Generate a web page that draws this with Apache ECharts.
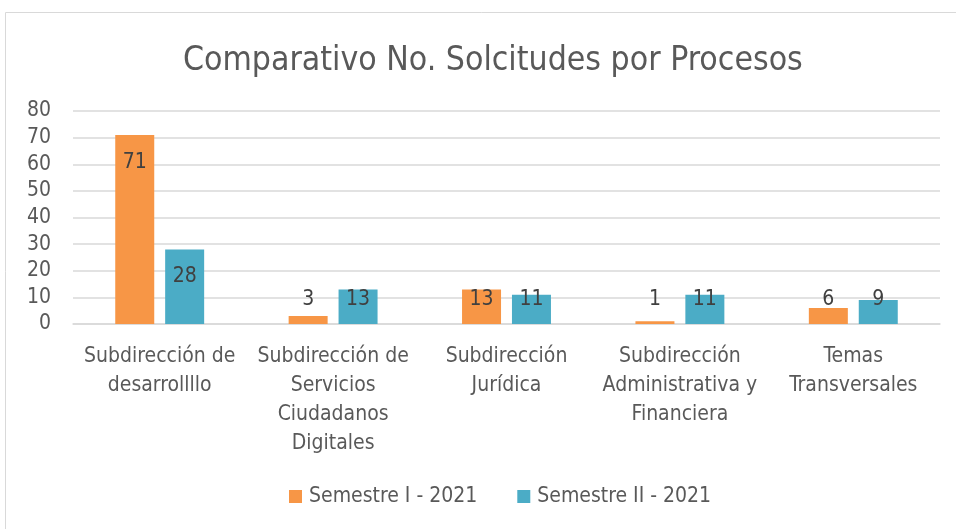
<!DOCTYPE html>
<html>
<head>
<meta charset="utf-8">
<script src="https://cdn.jsdelivr.net/npm/echarts@6/dist/echarts.min.js"></script>
<style>
	html, body { margin: 0; padding: 0; background: #fff; }
	#chart { width: 956px; height: 529px; }
</style>
</head>
<body>
<div id="chart"></div>
<script>
const categories = [
	"Subdirección de\ndesarrollllo",
	"Subdirección de\nServicios\nCiudadanos\nDigitales",
	"Subdirección\nJurídica",
	"Subdirección\nAdministrativa y\nFinanciera",
	"Temas\nTransversales"
];
const semestre1 = [71, 3, 13, 1, 6];
const semestre2 = [28, 13, 11, 11, 9];
const seriesNames = ["Semestre I - 2021", "Semestre II - 2021"];

const FONT = "'Liberation Sans Narrow', 'DejaVu Sans Condensed', 'Open Sans', sans-serif";
const TEXT = "#595959";
const GRID_TOP = 111;
const GRID_BOTTOM = 205;
const Y_MAX = 80;
const pxPerUnit = (529 - GRID_TOP - GRID_BOTTOM) / Y_MAX;

// Excel puts the number inside the bar end on tall bars; short ones get it at a fixed low level
const toItems = values => values.map(v => ({
	value: v,
	label: v >= 20
		? { position: "insideTop", distance: 17 }
		: { position: "top", distance: (9 - v) * pxPerUnit - 10 }
}));

const chart = echarts.init(document.getElementById("chart"));
chart.setOption({
	animation: false,
	textStyle: { fontFamily: FONT, color: TEXT },
	graphic: [{
		type: "rect",
		shape: { x: 5.5, y: 12.5, width: 960, height: 530 },
		style: { fill: null, stroke: "#d9d9d9", lineWidth: 1 },
		silent: true
	}],
	title: {
		text: "Comparativo No. Solcitudes por Procesos",
		left: 178,
		top: 39,
		textStyle: { fontFamily: FONT, fontSize: 33.5, fontWeight: "normal", color: TEXT }
	},
	legend: {
		bottom: 17,
		left: 284,
		itemWidth: 13,
		itemHeight: 13,
		itemGap: 40,
		icon: "rect",
		textStyle: { fontFamily: FONT, fontSize: 21, color: TEXT, padding: [0, 0, 0, 2] },
		data: seriesNames
	},
	grid: { left: 73, right: 16, top: GRID_TOP, bottom: GRID_BOTTOM, containLabel: false },
	xAxis: {
		type: "category",
		data: categories,
		axisTick: { show: false },
		axisLine: { lineStyle: { color: "#d9d9d9", width: 1.5 } },
		axisLabel: {
			interval: 0,
			margin: 18,
			fontFamily: FONT,
			fontSize: 21,
			lineHeight: 29,
			color: TEXT
		}
	},
	yAxis: {
		type: "value",
		min: 0,
		max: Y_MAX,
		interval: 10,
		axisLine: { show: false },
		axisTick: { show: false },
		splitLine: { lineStyle: { color: "#d9d9d9", width: 1.5 } },
		axisLabel: { fontFamily: FONT, fontSize: 21, color: TEXT, margin: 22 }
	},
	series: [
		{
			name: seriesNames[0],
			type: "bar",
			data: toItems(semestre1),
			barWidth: 39,
			barGap: "28%",
			itemStyle: { color: "#F79646" },
			label: { show: true, fontFamily: FONT, fontSize: 21, color: "#404040" }
		},
		{
			name: seriesNames[1],
			type: "bar",
			data: toItems(semestre2),
			barWidth: 39,
			itemStyle: { color: "#4BACC6" },
			label: { show: true, fontFamily: FONT, fontSize: 21, color: "#404040" }
		}
	]
});
</script>
</body>
</html>
